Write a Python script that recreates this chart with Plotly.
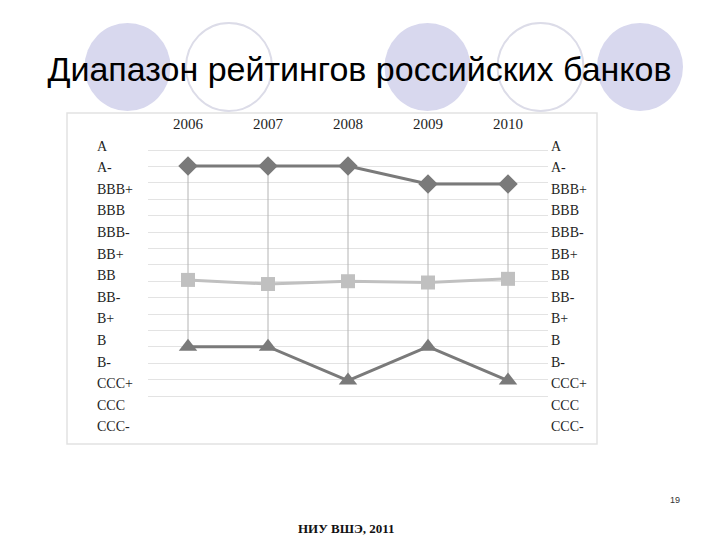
import plotly.graph_objects as go

# ---- data ----
years = [2006, 2007, 2008, 2009, 2010]
ratings = ["A", "A-", "BBB+", "BBB", "BBB-", "BB+", "BB", "BB-", "B+", "B", "B-", "CCC+", "CCC", "CCC-"]
# positions on the rating scale (0 = A, 13 = CCC-)
max_rating = [0.93, 0.93, 0.93, 1.76, 1.76]
avg_rating = [6.2, 6.39, 6.26, 6.32, 6.15]
min_rating = [9.29, 9.29, 10.86, 9.29, 10.86]

title_text = "Диапазон рейтингов российских банков"
footer_text = "НИУ ВШЭ, 2011"
page_no = "19"

# ---- layout geometry (page pixels; the page body adds an 8px offset) ----
OFF = 8
W, H = 712, 532
L, R, T, B = 148, 548, 136, 440  # plot area in page pixels


def px(x):
    return (x - L) / (R - L)


def py(y):
    return (B - y) / (B - T)


fig = go.Figure()

# high-low drop lines
hx, hy = [], []
for yr, hi, lo in zip(years, max_rating, min_rating):
    hx += [yr, yr, None]
    hy += [hi, lo, None]
fig.add_trace(go.Scatter(x=hx, y=hy, mode="lines",
                         line=dict(color="#b4b4b4", width=1),
                         hoverinfo="skip", showlegend=False))

fig.add_trace(go.Scatter(x=years, y=max_rating, mode="lines+markers",
                         line=dict(color="#7a7a7a", width=3),
                         marker=dict(symbol="diamond", size=15, color="#7a7a7a"),
                         showlegend=False, name="max"))
fig.add_trace(go.Scatter(x=years, y=avg_rating, mode="lines+markers",
                         line=dict(color="#c0c0c0", width=3),
                         marker=dict(symbol="square", size=14, color="#c0c0c0"),
                         showlegend=False, name="avg"))
fig.add_trace(go.Scatter(x=years, y=min_rating, mode="lines+markers",
                         line=dict(color="#7a7a7a", width=3),
                         marker=dict(symbol="triangle-up", size=16, color="#7a7a7a"),
                         showlegend=False, name="min"))

# invisible trace to carry the grid axis
fig.add_trace(go.Scatter(x=[None], y=[None], yaxis="y3", hoverinfo="skip", showlegend=False))

# rating labels on both sides
annotations = []
for i, r in enumerate(ratings):
    for xpix in (95, 549):
        annotations.append(dict(x=px(xpix), y=i, xref="paper", yref="y", text=r,
                                showarrow=False, xanchor="left", yanchor="middle",
                                font=dict(family="Liberation Serif", size=14, color="#1e1e1e")))

annotations.append(dict(x=px(346), y=py(528), xref="paper", yref="paper", text="<b>" + footer_text + "</b>",
                        showarrow=False, xanchor="center", yanchor="middle",
                        font=dict(family="Liberation Serif", size=13, color="#111111")))
annotations.append(dict(x=px(675), y=py(500), xref="paper", yref="paper", text=page_no,
                        showarrow=False, xanchor="center", yanchor="middle",
                        font=dict(family="Liberation Sans", size=9, color="#333333")))

shapes = []
fill_c = "#d8d8ee"
for cx in (127.5, 427.5, 640):
    shapes.append(dict(type="circle", xref="paper", yref="paper", layer="below",
                       x0=px(cx - 43), x1=px(cx + 43), y0=py(67 + 44), y1=py(67 - 44),
                       fillcolor=fill_c, line=dict(width=0)))
for cx in (229, 540.5):
    shapes.append(dict(type="circle", xref="paper", yref="paper", layer="below",
                       x0=px(cx - 43), x1=px(cx + 43), y0=py(67 + 44), y1=py(67 - 44),
                       fillcolor="rgba(0,0,0,0)", line=dict(width=2, color="#dcdce8")))
# chart frame
shapes.append(dict(type="rect", xref="paper", yref="paper", layer="below",
                   x0=px(67), x1=px(597), y0=py(444), y1=py(113),
                   line=dict(color="#e2e2e2", width=1.5), fillcolor="rgba(0,0,0,0)"))

grid_vals = [150 + 16.4 * k for k in range(16)]

fig.update_layout(
    width=W, height=H,
    margin=dict(l=L - OFF, r=W - (R - OFF), t=T - OFF, b=H - (B - OFF), pad=0),
    paper_bgcolor="white", plot_bgcolor="rgba(0,0,0,0)",
    title=dict(text=title_text, x=(359.5 - OFF) / W, xref="container",
               y=1 - (69 - OFF) / H, yref="container",
               xanchor="center", yanchor="middle",
               font=dict(family="Liberation Sans", size=34, color="#000000")),
    xaxis=dict(range=[2005.5, 2010.5], side="top", tickvals=years, ticktext=[str(y) for y in years],
               showgrid=False, zeroline=False, showline=False, ticks="", ticklabelstandoff=3,
               tickfont=dict(family="Liberation Serif", size=15, color="#1e1e1e")),
    yaxis=dict(range=[13.611, -0.463], showgrid=False, zeroline=False, showline=False,
               showticklabels=False, ticks=""),
    yaxis3=dict(range=[B, T], overlaying="y", tickvals=grid_vals, showgrid=True,
                gridcolor="#e3e3e3", gridwidth=1, showticklabels=False, zeroline=False,
                showline=False, ticks=""),
    annotations=annotations,
    shapes=shapes,
)

fig.write_html("out.html")
